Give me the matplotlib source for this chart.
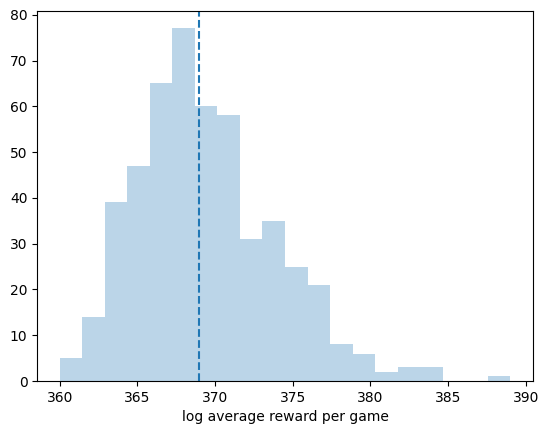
import numpy as np
import matplotlib
matplotlib.use("Agg")
import matplotlib.pyplot as plt

# histogram counts, 20 equal bins from 360 to 389
bin_lo = 360.0
bin_hi = 389.0
counts = [5, 14, 39, 47, 65, 77, 60, 58, 31, 35, 25, 21, 8, 6, 2, 3, 3, 0, 0, 1]
mean_value = 368.95

edges = np.linspace(bin_lo, bin_hi, len(counts) + 1)
centers = (edges[:-1] + edges[1:]) / 2

fig = plt.figure(figsize=(5.47, 4.34), dpi=100)
ax = fig.add_axes([0.068, 0.122, 0.906, 0.853])
ax.hist(centers, bins=edges, weights=counts, color="C0", alpha=0.3)
ax.axvline(mean_value, color="C0", linestyle="--")
ax.set_xlabel("log average reward per game")

fig.savefig("out.png", dpi=100)
